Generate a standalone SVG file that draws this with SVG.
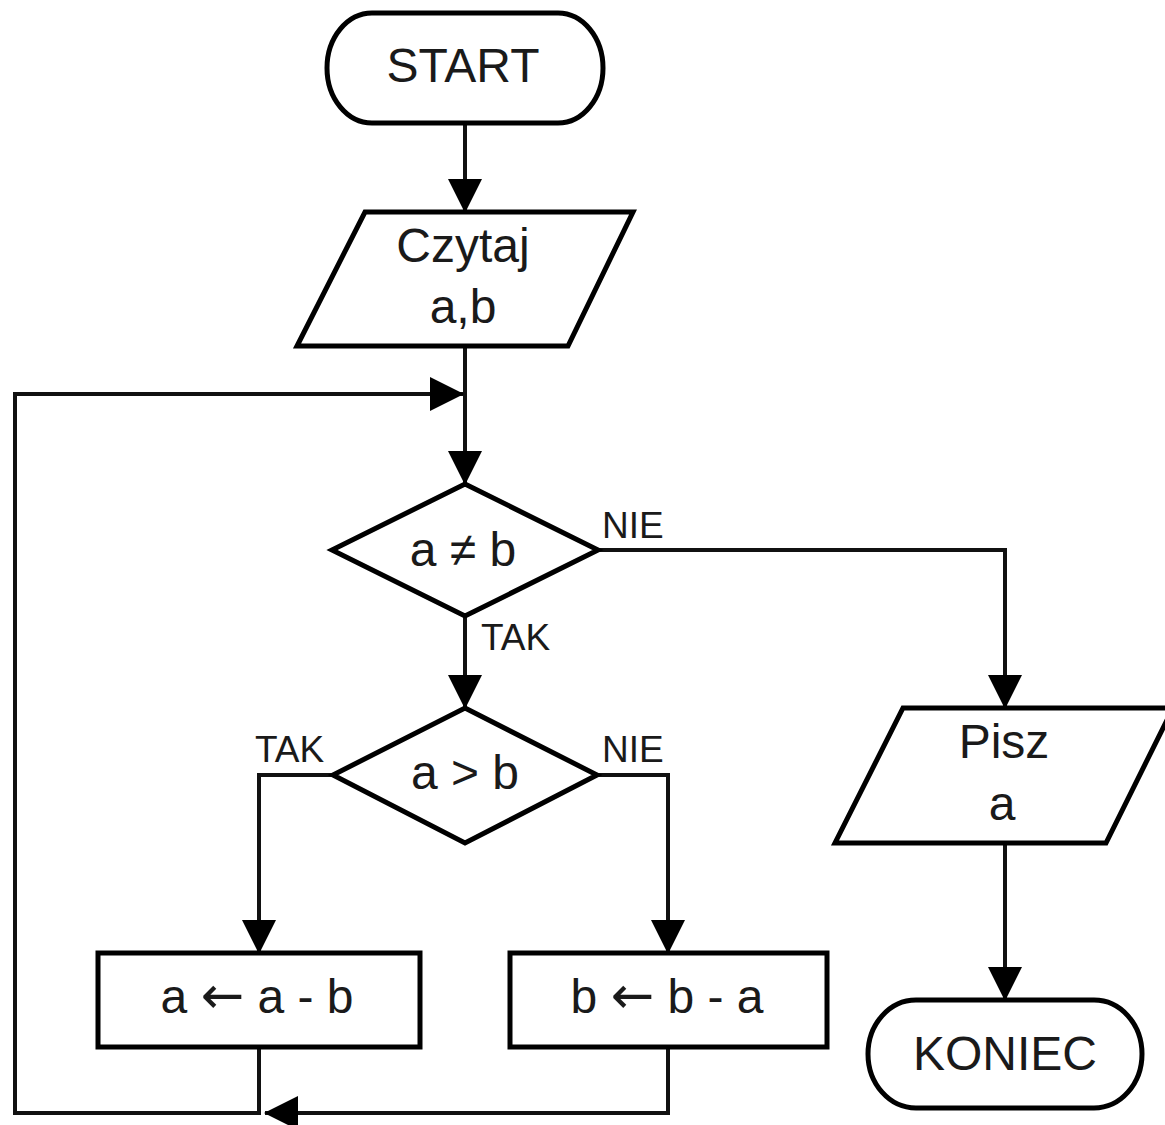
<svg xmlns="http://www.w3.org/2000/svg" width="1165" height="1125" viewBox="0 0 1165 1125">
<style>
.shape{fill:#fff;stroke:#000;stroke-width:5;stroke-linejoin:miter}
.conn{fill:none;stroke:#111;stroke-width:4}
.t{font-family:"Liberation Sans",Arial,sans-serif;font-size:48px;fill:#1a1a1a;text-anchor:middle}
.lbl{font-family:"Liberation Sans",Arial,sans-serif;font-size:37px;fill:#1a1a1a}
.ar{font-family:"DejaVu Sans",sans-serif;font-size:52px}
</style>
<defs>
<marker id="arr" viewBox="0 0 34 34" refX="33" refY="17" markerWidth="34" markerHeight="34" markerUnits="userSpaceOnUse" orient="auto">
<path d="M0,0 L34,17 L0,34 Z" fill="#000"/>
</marker>
</defs>
<g id="connectors">
<path class="conn" d="M465,123 L465,212" marker-end="url(#arr)"/>
<path class="conn" d="M465,346 L465,484" marker-end="url(#arr)"/>
<path class="conn" d="M598,550 L1005,550 L1005,708" marker-end="url(#arr)"/>
<path class="conn" d="M465,616 L465,708" marker-end="url(#arr)"/>
<path class="conn" d="M333,775 L259,775 L259,953" marker-end="url(#arr)"/>
<path class="conn" d="M597,775 L668,775 L668,953" marker-end="url(#arr)"/>
<path class="conn" d="M1005,843 L1005,1000" marker-end="url(#arr)"/>
<path class="conn" d="M259,1047 L259,1113 L15,1113 L15,394 L463,394" marker-end="url(#arr)"/>
<path class="conn" d="M668,1047 L668,1113 L265,1113" marker-end="url(#arr)"/>
<text class="lbl" x="602" y="538">NIE</text>
<text class="lbl" x="481" y="650">TAK</text>
<text class="lbl" x="255" y="762">TAK</text>
<text class="lbl" x="602" y="762">NIE</text>
</g>
<g id="start">
<rect class="shape" x="327" y="13" width="276" height="110" rx="45" ry="55"/>
<text class="t" x="463" y="82">START</text>
</g>
<g id="czytaj">
<polygon class="shape" points="365,212 633,212 568,346 297,346"/>
<text class="t" x="463" y="262">Czytaj</text>
<text class="t" x="463" y="323">a,b</text>
</g>
<g id="cond1">
<polygon class="shape" points="465,484 598,550 465,616 332,550"/>
<text class="t" x="463" y="566">a ≠ b</text>
</g>
<g id="cond2">
<polygon class="shape" points="465,708 597,775 465,843 333,775"/>
<text class="t" x="465" y="789">a &gt; b</text>
</g>
<g id="box1">
<rect class="shape" x="98" y="953" width="322" height="94"/>
<text class="t" x="257" y="1013">a <tspan class="ar">←</tspan> a - b</text>
</g>
<g id="box2">
<rect class="shape" x="510" y="953" width="317" height="94"/>
<text class="t" x="667" y="1013">b <tspan class="ar">←</tspan> b - a</text>
</g>
<g id="pisz">
<polygon class="shape" points="903,708 1173,708 1106,843 835,843"/>
<text class="t" x="1004" y="758">Pisz</text>
<text class="t" x="1002" y="820">a</text>
</g>
<g id="koniec">
<rect class="shape" x="868" y="1000" width="274" height="108" rx="48" ry="54"/>
<text class="t" x="1005" y="1070">KONIEC</text>
</g>
</svg>
